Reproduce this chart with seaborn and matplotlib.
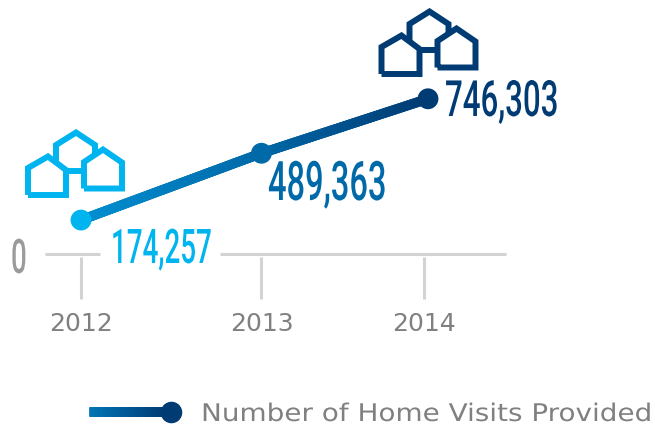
import numpy as np
import pandas as pd
import seaborn as sns
import matplotlib.pyplot as plt
from matplotlib.collections import LineCollection
from matplotlib.colors import LinearSegmentedColormap
from matplotlib.patheffects import AbstractPathEffect
from matplotlib.transforms import Affine2D

years = [2012, 2013, 2014]
year_pos = [2012, 2013.04, 2014]
tick_pos = [2012, 2013.04, 2013.975]
visits = [174257, 489363, 746303]
visit_labels = ['174,257', '489,363', '746,303']
legend_label = 'Number of Home Visits Provided'

point_colors = ['#00b5ef', '#0069a8', '#003b73']
grey_line = '#d3d3d3'
grey_text = '#808080'

W, H = 655, 427


class Stretch(AbstractPathEffect):
    # condensed headline face: squeeze glyphs around the text origin
    def __init__(self, sx=1.0, sy=1.0):
        super().__init__()
        self.sx = sx
        self.sy = sy

    def draw_path(self, renderer, gc, tpath, affine, rgbFace=None):
        renderer.draw_path(gc, tpath, Affine2D().scale(self.sx, self.sy) + affine, rgbFace)


def px(x, y):
    return (x / W, 1 - y / H)


def draw_houses(ax, color, dx=0, dy=0):
    shapes = [
        [(28, 196), (66, 196), (66, 171), (48, 157.5), (28, 169), (28, 196)],
        [(84, 189.5), (122, 189.5), (122, 163.5), (103, 150.5), (84, 163), (84, 189.5)],
        [(56, 163), (56, 146), (76, 133.5), (95, 146), (95, 155)],
        [(66, 172), (84, 172)],
    ]
    for s in shapes:
        pts = [px(x + dx, y + dy) for x, y in s]
        ax.plot(*zip(*pts), color=color, lw=4.3, transform=ax.transAxes,
                solid_joinstyle='miter', solid_capstyle='butt', zorder=2)


sns.set_style('white')
fig = plt.figure(figsize=(6.55, 4.27), dpi=100)
ax = fig.add_axes([0, 0, 1, 1])

df = pd.DataFrame({'pos': year_pos, 'visits': visits, 'year': years})

# 173.5 px per year, 0 at 258 px from the top
left = 2012 - 81 / 173.5
ax.set_xlim(left, left + W / 173.5)
ax.set_ylim(-(H - 258) / 0.000212, 258 / 0.000212)

sns.lineplot(data=df, x='pos', y='visits', color=point_colors[1], lw=7, ax=ax, zorder=3)

# gradient over the line
stops = LinearSegmentedColormap.from_list('visits', ['#0090d2', '#0069a8', '#003b73'])
fx = np.interp(np.linspace(0, 2, 121), [0, 1, 2], year_pos)
fy = np.interp(fx, year_pos, visits)
pts = np.column_stack([fx, fy])
segs = np.stack([pts[:-1], pts[1:]], axis=1)
ax.add_collection(LineCollection(segs, colors=stops(np.linspace(0, 1, len(segs))),
                                 linewidths=7, capstyle='round', zorder=4))

sns.scatterplot(data=df, x='pos', y='visits', hue='year', palette=point_colors, s=225,
                linewidth=0, legend=False, ax=ax, zorder=5)

# baseline with a gap for the first label
for a, b in [(45, 100), (220, 506)]:
    ax.plot([a / W, b / W], [1 - 255 / H, 1 - 255 / H], color=grey_line, lw=2.2,
            transform=ax.transAxes, solid_capstyle='butt', zorder=1)

sns.despine(ax=ax, left=True, bottom=True)
ax.spines['bottom'].set_position(('data', 0))
ax.set_xticks(tick_pos)
ax.set_xticklabels(years)
ax.set_yticks([])
ax.set_xlabel('')
ax.set_ylabel('')
ax.tick_params(axis='x', direction='out', length=30.5, width=2.2, color=grey_line,
               labelcolor=grey_text, labelsize=18, pad=8.5, bottom=True)
ax.patch.set_alpha(0)

# condensed value labels
label_xy = [(111, 264), (268, 201), (445, 117)]
label_size = [20, 23.5, 22.5]
label_sy = [1.72, 1.67, 1.6]
for txt, (x, y), c, fs, sy in zip(visit_labels, label_xy, point_colors, label_size, label_sy):
    ax.text(*px(x, y), txt, transform=ax.transAxes, color=c, fontsize=fs, ha='left', va='baseline',
            family='Roboto', fontweight='medium', path_effects=[Stretch(1.0, sy)], zorder=6)
ax.text(*px(11, 274), '0', transform=ax.transAxes, color='#9a9b9d', fontsize=20, ha='left',
        va='baseline', family='Roboto', fontweight='medium', path_effects=[Stretch(1.0, 1.72)])

draw_houses(ax, point_colors[0])
draw_houses(ax, point_colors[2], 353.5, -121)

# legend
lx = np.linspace(94, 171, 60) / W
ly = np.full(60, 1 - 413 / H)
lpts = np.column_stack([lx, ly])
lsegs = np.stack([lpts[:-1], lpts[1:]], axis=1)
leg_map = LinearSegmentedColormap.from_list('leg', ['#0075b5', '#003b73'])
ax.add_collection(LineCollection(lsegs, colors=leg_map(np.linspace(0, 1, len(lsegs))), linewidths=7,
                                 capstyle='projecting', transform=ax.transAxes, zorder=4))
ax.plot(*px(171, 413), 'o', color=point_colors[2], ms=15.5, mew=0, transform=ax.transAxes, zorder=5)
ax.text(*px(201, 422), legend_label, transform=ax.transAxes, color=grey_text, fontsize=17,
        ha='left', va='baseline', family='DejaVu Sans', path_effects=[Stretch(1.18, 1.03)])

fig.savefig('out.png', dpi=100)
